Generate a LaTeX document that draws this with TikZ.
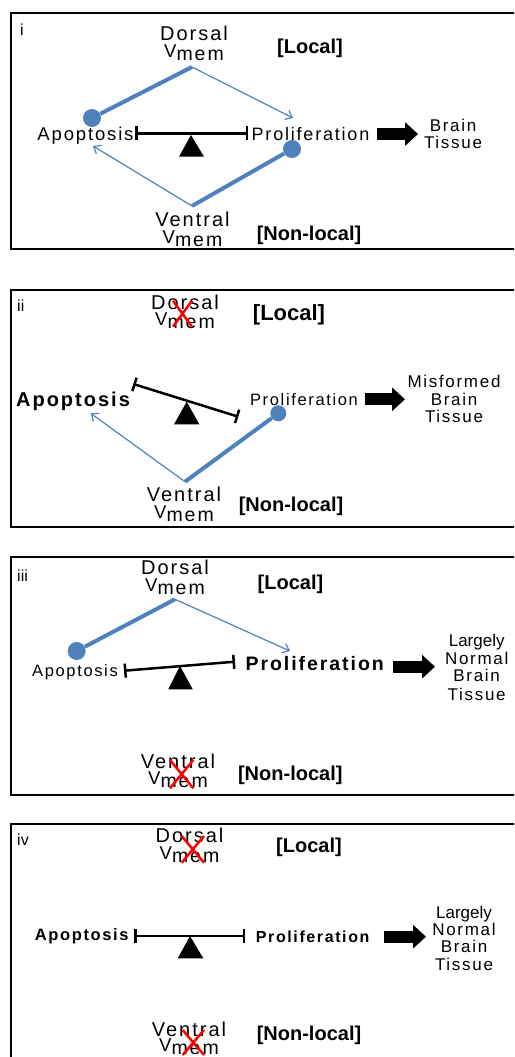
\documentclass[tikz,border=0pt]{standalone}
\usepackage{fontspec}
\setmainfont{Liberation Sans}
\newfontfamily\lsf[LetterSpace=10]{Liberation Sans}
\usetikzlibrary{arrows.meta}
\definecolor{vblue}{RGB}{79,129,189}
\newcommand{\fsz}[1]{\fontsize{#1}{#1}\selectfont}
\newcommand{\vmemtxt}{{\fsz{18.5}V}\raisebox{-3.2pt}{\fsz{19.5}mem}}
\tikzset{
  txt/.style={inner sep=0pt, anchor=base},
  panelframe/.style={draw=black, line width=1.7pt},
  thickb/.style={draw=vblue, line width=4pt},
  thinb/.style={draw=vblue, line width=1.2pt, -{Straight Barb[length=6pt,width=10pt]}},
  ball/.style={circle, fill=vblue, inner sep=0pt, minimum size=18pt},
  seesaw/.style={line width=2.5pt, {Bar[width=14pt]}-{Bar[width=14pt]}},
  bigarrow/.style={line width=12pt, -{Triangle[length=13pt,width=23pt]}},
  redx/.style={draw=red, line width=2.5pt},
  sp/.style={font=\lsf\fsz{#1}},
  bsp/.style={font=\lsf\bfseries\fsz{#1}},
  bl/.style={font=\bfseries\fsz{#1}},
  nl/.style={font=\fsz{#1}},
}
\begin{document}
\begin{tikzpicture}[x=1pt,y=-1pt]
\useasboundingbox (0,0) rectangle (514,1057);
\clip (0,0) rectangle (514,1057);

% ================= Panel i =================
\draw[panelframe] (11,12.7) rectangle (530,249.3);
\node[txt,anchor=base west,nl=16] (lab1) at (20,36) {i};
\node[txt,sp=20] (dors1) at (194,41) {Dorsal};
\node[txt,sp=19] (dvm1) at (194,57) {\vmemtxt};
\node[txt,bl=20] (loc1) at (310,53) {[Local]};
\node[txt,sp=18.5] (apo1) at (85.5,140.7) {Apoptosis};
\node[txt,sp=18] (pro1) at (310.5,140.7) {Proliferation};
\node[txt,sp=17] (br1) at (453,131.7) {Brain};
\node[txt,sp=17] (ti1) at (453,148) {Tissue};
\node[txt,sp=20] (ven1) at (192.5,226.7) {Ventral};
\node[txt,sp=19] (vvm1) at (192.5,243.5) {\vmemtxt};
\node[txt,bl=20] (nloc1) at (309,240) {[Non-local]};
\coordinate (dA1) at (192,67);
\coordinate (vA1) at (192,206);
\node[ball] (ba1) at (92,118) {};
\node[ball] (bp1) at (292,149) {};
\coordinate (tp1) at (293,118);
\coordinate (ta1) at (93,146);
\draw[thickb] (dA1) -- (ba1);
\draw[thinb] (dA1) -- (tp1);
\draw[thickb] (vA1) -- (bp1);
\draw[thinb] (vA1) -- (ta1);
\coordinate (sl1) at (135,133.3);
\coordinate (sr1) at (248,133.3);
\draw[seesaw] (sl1) -- (sr1);
\fill (191,135) -- (204,156.7) -- (179,156.7) -- cycle;
\coordinate (as1) at (377,134);
\coordinate (ae1) at (418,134);
\draw[bigarrow] (as1) -- (ae1);

% ================= Panel ii =================
\draw[panelframe] (11,290) rectangle (530,527.3);
\node[txt,anchor=base west,nl=16] (lab2) at (17,311.7) {ii};
\node[txt,sp=20] (dors2) at (185,309.3) {Dorsal};
\node[txt,sp=19] (dvm2) at (185,325.5) {\vmemtxt};
\draw[redx] (173,300.7) -- (192,326.7) (192,300.7) -- (173,326.7);
\node[txt,bl=22] (loc2) at (289,320) {[Local]};
\node[txt,bsp=20] (apo2) at (73,406) {Apoptosis};
\node[txt,sp=16.5] (pro2) at (304,405) {Proliferation};
\node[txt,sp=17] (mi2) at (454,387.3) {Misformed};
\node[txt,sp=17] (br2) at (454,405) {Brain};
\node[txt,sp=17] (ti2) at (454,422.7) {Tissue};
\node[txt,sp=20] (ven2) at (184,501.7) {Ventral};
\node[txt,sp=19] (vvm2) at (184,518) {\vmemtxt};
\node[txt,bl=20] (nloc2) at (291,511.7) {[Non-local]};
\coordinate (vA2) at (185,481.7);
\node[ball,minimum size=16pt] (bp2) at (278.3,413.3) {};
\coordinate (ta2) at (90.7,413.3);
\draw[thickb] (vA2) -- (bp2);
\draw[thinb] (vA2) -- (ta2);
\coordinate (sl2) at (133.3,384);
\coordinate (sr2) at (238.3,416.7);
\draw[seesaw] (sl2) -- (sr2);
\fill (186.7,401.7) -- (199.3,424.3) -- (174,424.3) -- cycle;
\coordinate (as2) at (365,399.3);
\coordinate (ae2) at (405,399.3);
\draw[bigarrow] (as2) -- (ae2);

% ================= Panel iii =================
\draw[panelframe] (11,557.3) rectangle (530,795);
\node[txt,anchor=base west,nl=16] (lab3) at (17,581.7) {iii};
\node[txt,sp=20] (dors3) at (175,574.3) {Dorsal};
\node[txt,sp=19] (dvm3) at (175,591.5) {\vmemtxt};
\node[txt,bl=20] (loc3) at (290.5,589.3) {[Local]};
\node[txt,sp=16.5] (apo3) at (75,676.7) {Apoptosis};
\node[txt,bsp=19.5] (pro3) at (314.7,670.7) {Proliferation};
\node[txt,nl=17] (la3) at (476.7,646) {Largely};
\node[txt,sp=17] (no3) at (476.7,664) {Normal};
\node[txt,sp=17] (br3) at (476.7,681.7) {Brain};
\node[txt,sp=17] (ti3) at (476.7,700) {Tissue};
\node[txt,sp=20] (ven3) at (178,768.3) {Ventral};
\node[txt,sp=19] (vvm3) at (178,784.5) {\vmemtxt};
\draw[redx] (170,760) -- (193.3,788.3) (193.3,760) -- (170,788.3);
\node[txt,bl=20] (nloc3) at (290.3,780) {[Non-local]};
\coordinate (dA3) at (175,599.3);
\node[ball] (ba3) at (76.7,651) {};
\coordinate (tp3) at (290,651);
\draw[thickb] (dA3) -- (ba3);
\draw[thinb] (dA3) -- (tp3);
\coordinate (sl3) at (124,670.7);
\coordinate (sr3) at (235,661.7);
\draw[seesaw] (sl3) -- (sr3);
\fill (180,666) -- (192.7,689.3) -- (168.3,689.3) -- cycle;
\coordinate (as3) at (393.3,666.7);
\coordinate (ae3) at (435,666.7);
\draw[bigarrow] (as3) -- (ae3);

% ================= Panel iv =================
\draw[panelframe] (11,824) rectangle (530,1080);
\node[txt,anchor=base west,nl=16] (lab4) at (17,845) {iv};
\node[txt,sp=20] (dors4) at (189.5,842.3) {Dorsal};
\node[txt,sp=19] (dvm4) at (189.5,859.5) {\vmemtxt};
\draw[redx] (181.7,836) -- (204,862.7) (204,836) -- (181.7,862.7);
\node[txt,bl=20] (loc4) at (309,852.3) {[Local]};
\node[txt,bsp=16.5] (apo4) at (81.7,940) {Apoptosis};
\node[txt,bsp=16] (pro4) at (312.7,942.7) {Proliferation};
\node[txt,nl=17] (la4) at (464,918.3) {Largely};
\node[txt,sp=17] (no4) at (464,935) {Normal};
\node[txt,sp=17] (br4) at (464,952.7) {Brain};
\node[txt,sp=17] (ti4) at (464,970) {Tissue};
\node[txt,sp=20] (ven4) at (189,1036.7) {Ventral};
\node[txt,sp=19] (vvm4) at (189,1051.5) {\vmemtxt};
\draw[redx] (182.7,1030) -- (204,1055) (204,1030) -- (182.7,1055);
\node[txt,bl=20] (nloc4) at (309,1040.7) {[Non-local]};
\coordinate (sl4) at (134,936);
\coordinate (sr4) at (245,936);
\draw[seesaw] (sl4) -- (sr4);
\fill (190,936) -- (203.3,958.3) -- (177.7,958.3) -- cycle;
\coordinate (as4) at (384.3,936.7);
\coordinate (ae4) at (426,936.7);
\draw[bigarrow] (as4) -- (ae4);
\end{tikzpicture}
\end{document}
